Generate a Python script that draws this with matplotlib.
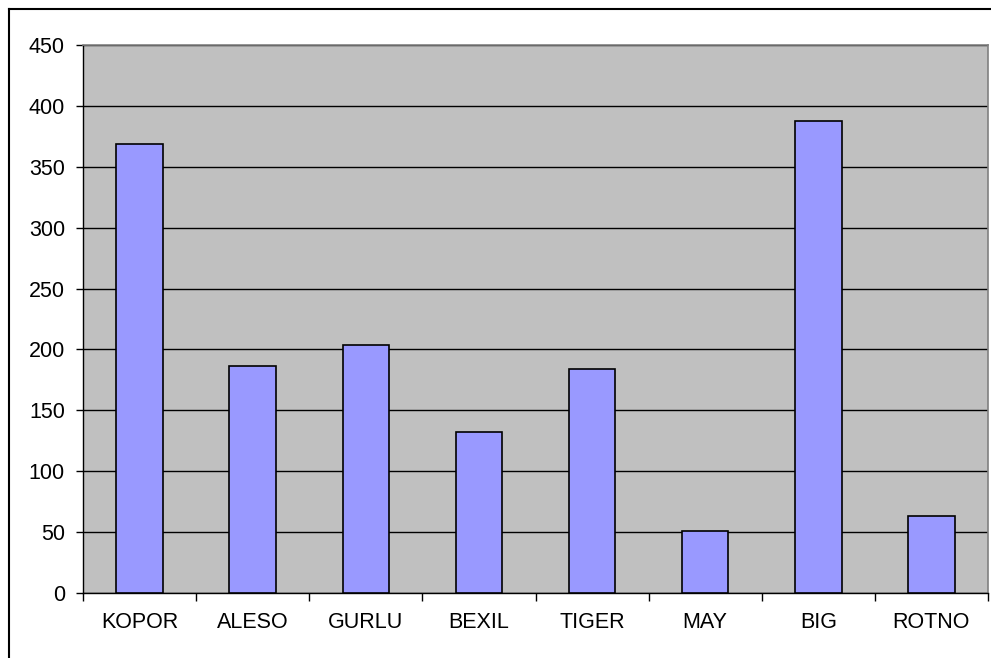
import matplotlib
matplotlib.use("Agg")
import matplotlib.pyplot as plt
from matplotlib.lines import Line2D

categories = ["KOPOR", "ALESO", "GURLU", "BEXIL", "TIGER", "MAY", "BIG", "ROTNO"]
values = [369, 186, 204, 132, 184, 51, 388, 63]
yticks = [0, 50, 100, 150, 200, 250, 300, 350, 400, 450]

plt.rcParams["font.family"] = ["Liberation Sans", "DejaVu Sans"]

fig = plt.figure(figsize=(9.91, 6.58), dpi=100)
W, H = 991, 658
ax = fig.add_axes([83 / W, (H - 593) / H, (988 - 83) / W, (593 - 45) / H])
ax.set_facecolor("#C0C0C0")

# outer chart frame (left and top edges visible)
fig.add_artist(Line2D([9 / W, 9 / W], [0, 1 - 9 / H], transform=fig.transFigure,
                      color="black", lw=1.5))
fig.add_artist(Line2D([9 / W, 1], [1 - 9 / H, 1 - 9 / H], transform=fig.transFigure,
                      color="black", lw=1.5))

x = list(range(len(categories)))
ax.bar(x, values, width=0.41, color="#9999FF", edgecolor="black", linewidth=1.2, zorder=3)

ax.set_xlim(-0.5, len(categories) - 0.5)
ax.set_ylim(0, 450)
ax.set_yticks(yticks)
ax.set_yticklabels([str(v) for v in yticks], fontsize=15.5)
ax.yaxis.grid(True, color="black", lw=1.0, zorder=1)
ax.set_axisbelow(True)

ax.set_xticks([i - 0.5 for i in range(len(categories) + 1)])
ax.set_xticklabels([])
ax.set_xticks(x, minor=True)
ax.set_xticklabels(categories, minor=True, fontsize=15.5)
ax.tick_params(axis="x", which="minor", length=0, pad=14)
ax.tick_params(axis="x", which="major", length=5.5, width=1, direction="out")
ax.tick_params(axis="y", length=5, width=1, direction="out", pad=8)

for s in ["top", "right"]:
    ax.spines[s].set_color("#808080")
    ax.spines[s].set_linewidth(1.2)
for s in ["left", "bottom"]:
    ax.spines[s].set_color("black")
    ax.spines[s].set_linewidth(1.0)

fig.savefig("out.png", dpi=100)
